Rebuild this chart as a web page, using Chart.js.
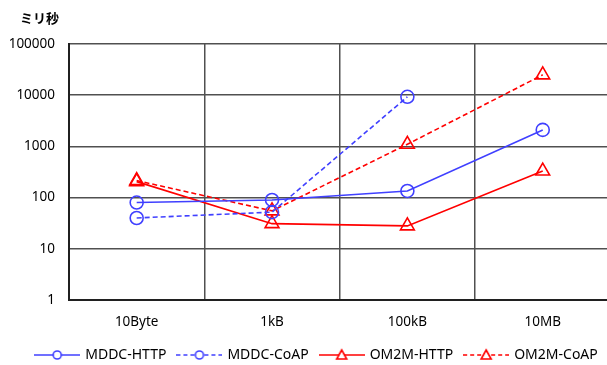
<!DOCTYPE html>
<html>
<head>
<meta charset="utf-8">
<script src="https://cdn.jsdelivr.net/npm/chart.js@4.4.1/dist/chart.umd.min.js"></script>
<style>
  html, body { margin: 0; padding: 0; background: #fff; overflow: hidden; }
  #chart { display: block; }
</style>
</head>
<body>
<canvas id="chart" width="620" height="374"></canvas>
<script>
// Datos (escala logarítmica, ミリ秒)
const categories = ['10Byte', '1kB', '100kB', '10MB'];
const seriesNames = ['MDDC-HTTP', 'MDDC-CoAP', 'OM2M-HTTP', 'OM2M-CoAP'];
const mddcHttp = [80, 90, 135, 2100];
const mddcCoap = [40, 52, 9300, null];
const om2mHttp = [205, 31, 28, 330];
const om2mCoap = [215, 55, 1100, 25000];
const yTicks = [1, 10, 100, 1000, 10000, 100000];
const unitLabel = 'ミリ秒';

const blue = '#4040ff';
const red = '#ff0000';
const fontFamily = "'Noto Sans', 'Noto Sans CJK JP', sans-serif";

// Icono de leyenda: línea + marcador
function legendIcon(color, dashed, style) {
    const c = document.createElement('canvas');
    c.width = 46; c.height = 16;
    const ctx = c.getContext('2d');
    ctx.strokeStyle = color;
    ctx.lineWidth = 1.6;
    ctx.setLineDash(dashed ? [4, 3] : []);
    ctx.beginPath();
    ctx.moveTo(0, 8); ctx.lineTo(46, 8);
    ctx.stroke();
    ctx.setLineDash([]);
    ctx.fillStyle = '#fff';
    ctx.beginPath();
    if (style === 'circle') {
        ctx.arc(23, 8, 4, 0, Math.PI * 2);
    } else {
        ctx.moveTo(23, 3); ctx.lineTo(28, 12); ctx.lineTo(18, 12); ctx.closePath();
    }
    ctx.fill();
    ctx.lineWidth = 1.6;
    ctx.stroke();
    return c;
}

function makeDataset(label, data, color, dashed, style) {
    return {
        label: label,
        data: data,
        borderColor: color,
        backgroundColor: '#fff',
        borderWidth: 1.6,
        borderDash: dashed ? [5, 3] : [],
        pointStyle: style,
        pointRadius: style === 'circle' ? 6.5 : 8,
        pointBorderWidth: 1.6,
        pointBorderColor: color,
        pointBackgroundColor: 'rgba(255,255,255,0)',
        tension: 0,
        spanGaps: false,
        _icon: legendIcon(color, dashed, style)
    };
}

const unitPlugin = {
    id: 'unitLabel',
    afterLayout(chart) {
        // desplazar la leyenda un poco a la derecha, como en el original
        chart.legend.left += 9;
        chart.legend.right += 9;
    },
    afterDraw(chart) {
        const ctx = chart.ctx;
        ctx.save();
        ctx.font = "bold 13px 'Noto Sans CJK JP', sans-serif";
        ctx.fillStyle = '#000';
        ctx.textBaseline = 'middle';
        ctx.fillText(unitLabel, 20, 18);
        ctx.restore();
    }
};

const ctx = document.getElementById('chart').getContext('2d');
new Chart(ctx, {
    type: 'line',
    data: {
        labels: categories,
        datasets: [
            makeDataset(seriesNames[0], mddcHttp, blue, false, 'circle'),
            makeDataset(seriesNames[1], mddcCoap, blue, true, 'circle'),
            makeDataset(seriesNames[2], om2mHttp, red, false, 'triangle'),
            makeDataset(seriesNames[3], om2mCoap, red, true, 'triangle')
        ]
    },
    options: {
        responsive: false,
        animation: false,
        layout: { padding: { top: 44, left: 0, right: 4, bottom: 2 } },
        scales: {
            x: {
                offset: true,
                grid: { offset: true, color: '#505050', lineWidth: 1.5, drawTicks: false },
                border: { color: '#202020', width: 2 },
                ticks: { color: '#000', font: { family: fontFamily, size: 13.5 }, padding: 14 },
                afterFit(scale) { scale.height = 36; }
            },
            y: {
                type: 'logarithmic',
                min: 1,
                max: 100000,
                afterBuildTicks(scale) {
                    scale.ticks = yTicks.map(v => ({ value: v }));
                },
                grid: { color: '#505050', lineWidth: 1.5, drawTicks: false },
                border: { color: '#202020', width: 2 },
                ticks: {
                    color: '#000',
                    font: { family: fontFamily, size: 13.5 },
                    padding: 14,
                    callback: function(value) { return String(value); }
                },
                afterFit(scale) { scale.width = 69; }
            }
        },
        plugins: {
            legend: {
                position: 'bottom',
                labels: {
                    usePointStyle: true,
                    pointStyleWidth: 42,
                    padding: 12,
                    color: '#000',
                    font: { family: fontFamily, size: 14 },
                    generateLabels(chart) {
                        return chart.data.datasets.map((ds, i) => ({
                            text: ds.label,
                            pointStyle: ds._icon,
                            fillStyle: '#fff',
                            strokeStyle: ds.borderColor,
                            lineWidth: 0,
                            hidden: false,
                            datasetIndex: i,
                            fontColor: '#000'
                        }));
                    }
                }
            },
            tooltip: { enabled: false }
        }
    },
    plugins: [unitPlugin]
});
</script>
</body>
</html>
